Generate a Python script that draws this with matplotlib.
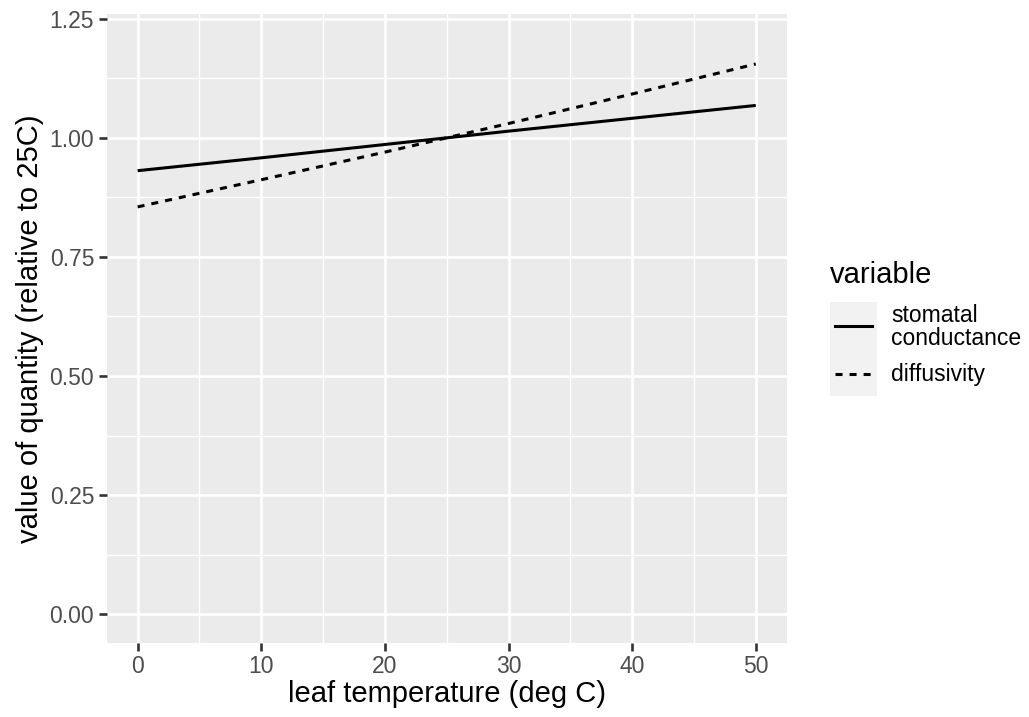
import numpy as np
import matplotlib.pyplot as plt
from matplotlib.lines import Line2D
from matplotlib.patches import Rectangle

plt.rcParams['font.family'] = ['Liberation Sans', 'DejaVu Sans']

temp = [0, 10, 20, 30, 40, 50]
stomatal = [0.931, 0.958, 0.986, 1.014, 1.041, 1.068]
diffusivity = [0.855, 0.912, 0.970, 1.030, 1.092, 1.155]

xticks = [0, 10, 20, 30, 40, 50]
yticks = [0.00, 0.25, 0.50, 0.75, 1.00, 1.25]
ytick_labels = ['0.00', '0.25', '0.50', '0.75', '1.00', '1.25']
legend_title = 'variable'
legend_labels = ['stomatal\nconductance', 'diffusivity']

fig = plt.figure(figsize=(10.29, 7.17), dpi=100)
ax = fig.add_axes([0.1037, 0.1036, 0.6608, 0.8769])
ax.set_facecolor('#EBEBEB')

lw = 2.2
dash = (0, (2.3, 2.3))
ax.plot(temp, stomatal, color='black', lw=lw, solid_capstyle='butt', zorder=3)
ax.plot(temp, diffusivity, color='black', lw=lw, linestyle=dash, zorder=3)

ax.set_xlim(-2.5, 52.5)
ax.set_ylim(-0.06, 1.26)
ax.set_xticks(xticks)
ax.set_yticks(yticks)
ax.set_yticklabels(ytick_labels)
ax.set_xticks(np.arange(5, 50, 10), minor=True)
ax.set_yticks(np.arange(0.125, 1.25, 0.25), minor=True)
ax.grid(which='major', color='white', lw=1.9)
ax.grid(which='minor', color='white', lw=0.95)
ax.set_axisbelow(True)
for s in ax.spines.values():
    s.set_visible(False)
ax.tick_params(which='major', length=5.5, width=1.9, color='#333333',
               labelcolor='#4D4D4D', labelsize=16.5, pad=3.5)
ax.tick_params(which='minor', length=0)

ax.set_xlabel('leaf temperature (deg C)', fontsize=21, color='black', labelpad=1.5)
ax.set_ylabel('value of quantity (relative to 25C)', fontsize=21, color='black', labelpad=4)

# legend drawn in figure pixel coords
W, H = 1029, 717
def fx(px): return px / W
def fy(py): return 1 - py / H

fig.text(fx(830), fy(283), legend_title, fontsize=21, va='baseline', ha='left')
fig.add_artist(Rectangle((fx(830), fy(396)), fx(47), (396 - 302) / H,
                         transform=fig.transFigure, facecolor='#F2F2F2', edgecolor='none'))
fig.add_artist(Line2D([fx(835), fx(872)], [fy(326), fy(326)], color='black', lw=lw,
                      transform=fig.transFigure))
fig.add_artist(Line2D([fx(835), fx(872)], [fy(374), fy(374)], color='black', lw=lw,
                      linestyle=dash, transform=fig.transFigure))
fig.text(fx(891), fy(327), legend_labels[0], fontsize=16.5, va='center', ha='left',
         linespacing=0.95)
fig.text(fx(891), fy(374), legend_labels[1], fontsize=16.5, va='center', ha='left')

fig.savefig('out.png', dpi=100)
